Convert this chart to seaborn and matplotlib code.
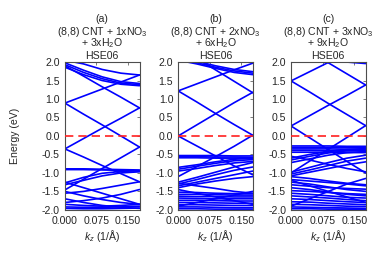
import numpy as np
import pandas as pd
import seaborn as sns
import matplotlib
matplotlib.use('Agg')
import matplotlib.pyplot as plt

k_nodes = [0.0, 0.0443, 0.0885, 0.1328, 0.177]

panel_tags = ['(a)', '(b)', '(c)']
systems = ['(8,8) CNT + 1xNO$_3$\n+ 3xH$_2$O',
           '(8,8) CNT + 2xNO$_3$\n+ 6xH$_2$O',
           '(8,8) CNT + 3xNO$_3$\n+ 9xH$_2$O']
method = 'HSE06'

# band energies (eV) at k_nodes
bands_a = [
    [0.89, 0.59, 0.30, 0.00, -0.30],
    [-0.35, -0.07, 0.21, 0.48, 0.76],
    [0.89, 1.08, 1.27, 1.46, 1.65],
    [1.90, 1.62, 1.33, 1.05, 0.76],
    [-0.35, -0.57, -0.80, -1.02, -1.24],
    [-1.46, -1.17, -0.88, -0.59, -0.30],
    [-0.89, -0.89, -0.90, -0.91, -0.92],
    [-0.91, -0.91, -0.92, -0.93, -0.95],
    [1.98, 1.78, 1.60, 1.47, 1.42],
    [1.93, 1.72, 1.55, 1.43, 1.39],
    [1.86, 1.66, 1.50, 1.40, 1.36],
    [2.05, 1.95, 1.80, 1.70, 1.65],
    [-1.27, -1.12, -1.01, -0.96, -0.94],
    [-1.32, -1.20, -1.08, -1.00, -0.97],
    [-1.25, -1.40, -1.55, -1.70, -1.85],
    [-1.55, -1.50, -1.42, -1.33, -1.24],
    [-1.50, -1.62, -1.72, -1.80, -1.85],
    [-1.80, -1.75, -1.68, -1.58, -1.45],
    [-1.85, -1.88, -1.90, -1.88, -1.85],
    [-1.92, -1.93, -1.93, -1.92, -1.90],
    [-1.96, -1.97, -1.97, -1.96, -1.95],
    [-1.70, -1.80, -1.88, -1.93, -1.96],
]

bands_b = [
    [1.22, 0.92, 0.61, 0.31, 0.02],
    [0.00, 0.30, 0.60, 0.90, 1.18],
    [1.22, 1.41, 1.60, 1.79, 1.97],
    [2.40, 2.10, 1.79, 1.48, 1.17],
    [0.00, -0.27, -0.54, -0.81, -1.05],
    [-1.10, -0.83, -0.56, -0.28, 0.02],
    [-0.53, -0.53, -0.53, -0.54, -0.54],
    [-0.56, -0.56, -0.57, -0.57, -0.58],
    [-0.59, -0.59, -0.60, -0.60, -0.61],
    [2.10, 1.98, 1.86, 1.76, 1.70],
    [2.05, 1.95, 1.83, 1.72, 1.66],
    [2.15, 2.02, 1.90, 1.80, 1.74],
    [-0.85, -0.78, -0.70, -0.63, -0.60],
    [-0.90, -0.82, -0.74, -0.67, -0.64],
    [-0.95, -0.88, -0.80, -0.73, -0.69],
    [-1.25, -1.12, -0.98, -0.84, -0.72],
    [-1.30, -1.18, -1.05, -0.93, -0.84],
    [-1.35, -1.25, -1.15, -1.05, -0.95],
    [-1.28, -1.35, -1.42, -1.50, -1.55],
    [-1.40, -1.30, -1.22, -1.15, -1.10],
    [-1.52, -1.53, -1.55, -1.56, -1.56],
    [-1.58, -1.58, -1.59, -1.60, -1.60],
    [-1.63, -1.64, -1.64, -1.65, -1.65],
    [-1.68, -1.69, -1.70, -1.70, -1.70],
    [-1.74, -1.74, -1.75, -1.76, -1.76],
    [-1.80, -1.80, -1.81, -1.82, -1.82],
    [-1.86, -1.86, -1.87, -1.88, -1.88],
    [-1.92, -1.92, -1.93, -1.94, -1.94],
    [-1.97, -1.97, -1.98, -1.98, -1.98],
    [-1.45, -1.55, -1.65, -1.75, -1.85],
    [-1.90, -1.80, -1.70, -1.60, -1.50],
]

bands_c = [
    [1.49, 1.19, 0.88, 0.58, 0.28],
    [0.27, 0.55, 0.83, 1.10, 1.38],
    [1.49, 1.74, 1.99, 2.24, 2.50],
    [2.55, 2.27, 1.98, 1.68, 1.38],
    [0.27, -0.05, -0.37, -0.69, -1.00],
    [-1.00, -0.68, -0.36, -0.04, 0.28],
    [2.30, 2.20, 2.10, 2.00, 1.96],
    [-0.27, -0.27, -0.27, -0.28, -0.28],
    [-0.31, -0.31, -0.31, -0.32, -0.32],
    [-0.35, -0.35, -0.35, -0.36, -0.36],
    [-0.39, -0.39, -0.40, -0.40, -0.40],
    [-0.44, -0.44, -0.44, -0.45, -0.45],
    [-0.60, -0.50, -0.42, -0.37, -0.34],
    [-0.65, -0.55, -0.46, -0.40, -0.37],
    [-0.72, -0.62, -0.52, -0.45, -0.42],
    [-0.55, -0.65, -0.77, -0.88, -0.97],
    [-0.98, -0.85, -0.72, -0.60, -0.52],
    [-1.03, -0.92, -0.80, -0.68, -0.60],
    [-1.08, -0.98, -0.88, -0.78, -0.70],
    [-1.10, -1.15, -1.22, -1.28, -1.32],
    [-1.18, -1.22, -1.26, -1.30, -1.35],
    [-1.25, -1.30, -1.38, -1.45, -1.50],
    [-1.32, -1.36, -1.40, -1.42, -1.44],
    [-1.40, -1.45, -1.52, -1.58, -1.62],
    [-1.48, -1.50, -1.53, -1.56, -1.58],
    [-1.55, -1.58, -1.62, -1.66, -1.68],
    [-1.62, -1.65, -1.68, -1.72, -1.75],
    [-1.70, -1.72, -1.75, -1.78, -1.80],
    [-1.78, -1.79, -1.82, -1.84, -1.86],
    [-1.85, -1.86, -1.88, -1.90, -1.91],
    [-1.92, -1.93, -1.94, -1.95, -1.96],
    [-1.97, -1.97, -1.98, -1.98, -1.99],
    [-1.20, -1.35, -1.50, -1.65, -1.80],
    [-1.90, -1.70, -1.50, -1.30, -1.15],
]

all_bands = [bands_a, bands_b, bands_c]

sns.set_theme(style='white')
plt.rcParams['font.family'] = ['Liberation Sans', 'DejaVu Sans']
plt.rcParams['mathtext.fontset'] = 'custom'
plt.rcParams['mathtext.rm'] = 'Liberation Sans'
plt.rcParams['mathtext.it'] = 'Liberation Sans:italic'

W, H = 375, 263
fig = plt.figure(figsize=(W / 100, H / 100), dpi=100)
lefts = [0.173, 0.475, 0.776]
fs = 7.6

for i, bands in enumerate(all_bands):
    ax = fig.add_axes([lefts[i], 0.202, 0.199, 0.562])
    rows = []
    for b, en in enumerate(bands):
        for k, e in zip(k_nodes, en):
            rows.append({'band': b, 'k': k, 'E': e})
    df = pd.DataFrame(rows)
    sns.lineplot(data=df, x='k', y='E', units='band', estimator=None,
                 sort=False, color='#0000ff', linewidth=1.2, ax=ax, legend=False)
    ax.axhline(0, color='#ff2020', linestyle=(0, (5, 3)), linewidth=1.2, zorder=3)
    ax.set_xlim(0, 0.177)
    ax.set_ylim(-2.0, 2.0)
    ax.set_xticks([0.0, 0.075, 0.150])
    ax.set_xticklabels(['0.000', '0.075', '0.150'])
    ax.set_yticks(np.arange(-2.0, 2.01, 0.5))
    ax.set_yticklabels(['%.1f' % v for v in np.arange(-2.0, 2.01, 0.5)])
    ax.tick_params(direction='in', length=2.5, width=0.6, color='0.4',
                   top=True, right=True, labelsize=fs)
    ax.tick_params(axis='y', pad=3.5)
    ax.tick_params(axis='x', pad=4.5)
    for s in ax.spines.values():
        s.set_color('0.3')
        s.set_linewidth(0.8)
    ax.set_xlabel('$k_z$ (1/Å)', fontsize=fs, labelpad=1.5)
    if i == 0:
        ax.set_ylabel('Energy (eV)', fontsize=fs, labelpad=16)
    else:
        ax.set_ylabel('')
    xc = lefts[i] + 0.199 / 2
    fig.text(xc, 1 - 21.5 / H, panel_tags[i], fontsize=fs, ha='center', va='baseline')
    fig.text(xc, 1 - 50.5 / H, systems[i], fontsize=fs, ha='center',
             va='bottom', linespacing=0.8, multialignment='center')
    fig.text(xc, 1 - 59.0 / H, method, fontsize=fs, ha='center', va='baseline')

fig.savefig('out.png', dpi=100)
